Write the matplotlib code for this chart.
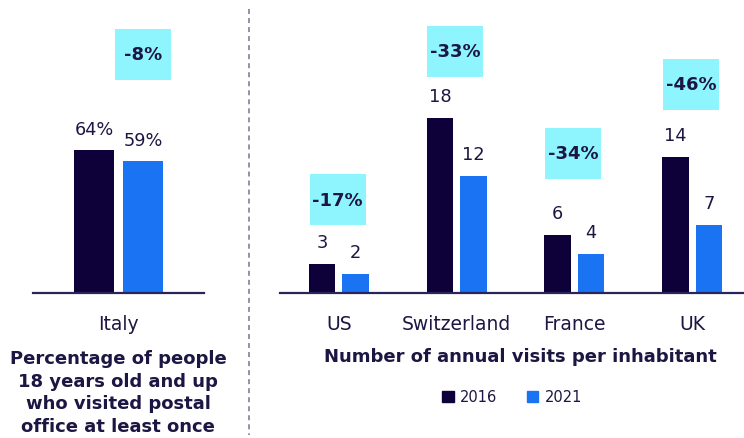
import matplotlib
matplotlib.use("Agg")
import matplotlib.pyplot as plt
from matplotlib.patches import Rectangle, Patch
from matplotlib.lines import Line2D
from matplotlib.transforms import IdentityTransform
import numpy as np

# data
left_cats = ["Italy"]
left_2016 = [64]
left_2021 = [59]
left_labels_2016 = ["64%"]
left_labels_2021 = ["59%"]
left_change = ["-8%"]

right_cats = ["US", "Switzerland", "France", "UK"]
right_2016 = [3, 18, 6, 14]
right_2021 = [2, 12, 4, 7]
right_change = ["-17%", "-33%", "-34%", "-46%"]

# layout: how far (px) the change box centre sits above the taller bar
left_box_lift = [96]
right_box_lift = [64, 66, 81, 72]

DARK = "#0e0039"
BLUE = "#1a73f2"
CYAN = "#8ef5ff"
TXT = "#1b1642"
BASE = "#2a2558"

plt.rcParams["font.family"] = ["DejaVu Sans"]
plt.rcParams["lines.scale_dashes"] = False

W, H = 744, 439
fig = plt.figure(figsize=(W / 100, H / 100), dpi=100)

ax_l = fig.add_axes([33 / W, (H - 294) / H, 171 / W, 294 / H])
ax_r = fig.add_axes([280 / W, (H - 294) / H, 464 / W, 294 / H])


def style(ax):
    for s in ["top", "left", "right"]:
        ax.spines[s].set_visible(False)
    ax.spines["bottom"].set_color(BASE)
    ax.spines["bottom"].set_linewidth(1.6)
    ax.set_yticks([])
    ax.tick_params(axis="x", length=0, pad=15, labelsize=13.5, labelcolor=TXT)


def draw(ax, cats, v16, v21, lab16, lab21, changes, lifts, width, off, box_dx):
    x = np.arange(len(cats))
    b1 = ax.bar(x - off, v16, width, color=DARK)
    b2 = ax.bar(x + off, v21, width, color=BLUE)
    for bars, labs in [(b1, lab16), (b2, lab21)]:
        for r, t in zip(bars, labs):
            ax.annotate(t, (r.get_x() + r.get_width() / 2, r.get_height()),
                        xytext=(0, 12), textcoords="offset points",
                        ha="center", va="baseline", fontsize=12.8, color=TXT)
    ax.set_xticks(x)
    ax.set_xticklabels(cats)
    fig.canvas.draw()
    for i, (c, lift) in enumerate(zip(changes, lifts)):
        top = max(v16[i], v21[i])
        px, py = ax.transData.transform((x[i] + box_dx, top))
        py += lift
        ax.add_patch(Rectangle((px - 28, py - 25.5), 56, 51, transform=IdentityTransform(),
                               facecolor=CYAN, edgecolor="none", clip_on=False, zorder=3))
        ax.text(px, py, c, transform=IdentityTransform(), ha="center", va="center",
                fontsize=13, fontweight="bold", color=TXT, zorder=4)


style(ax_l)
style(ax_r)
ax_l.set_xlim(-0.855, 0.855)
ax_l.set_ylim(0, 294 / 2.23)
ax_r.set_xlim(-0.5, 3.44)
ax_r.set_ylim(0, 294 / 9.75)

draw(ax_l, left_cats, left_2016, left_2021,
     left_labels_2016, left_labels_2021, left_change, left_box_lift, 0.395, 0.245, 0.245)
draw(ax_r, right_cats, right_2016, right_2021,
     [str(v) for v in right_2016], [str(v) for v in right_2021],
     right_change, right_box_lift, 0.225, 0.1425, -0.01)

# titles
fig.text(118 / W, 1 - 393 / H,
         "Percentage of people\n18 years old and up\nwho visited postal\noffice at least once",
         ha="center", va="center", fontsize=13, fontweight="bold", color=TXT, linespacing=1.33)
fig.text(520 / W, 1 - 357 / H, "Number of annual visits per inhabitant",
         ha="center", va="center", fontsize=13, fontweight="bold", color=TXT)

# divider
fig.add_artist(Line2D([249 / W, 249 / W], [1 - 10 / H, 1 - 436 / H], transform=fig.transFigure,
                      color="#8b88a6", linewidth=1.3, linestyle=(0, (3.6, 2.9))))

handles = [Patch(color=DARK, label="2016"), Patch(color=BLUE, label="2021")]
fig.legend(handles=handles, loc="center", bbox_to_anchor=(512 / W, 1 - 398 / H), ncol=2,
           frameon=False, fontsize=10.5, handlelength=0.82, handleheight=0.82,
           handletextpad=0.45, columnspacing=2.0, labelcolor=TXT)

fig.savefig("out.png", dpi=100)
